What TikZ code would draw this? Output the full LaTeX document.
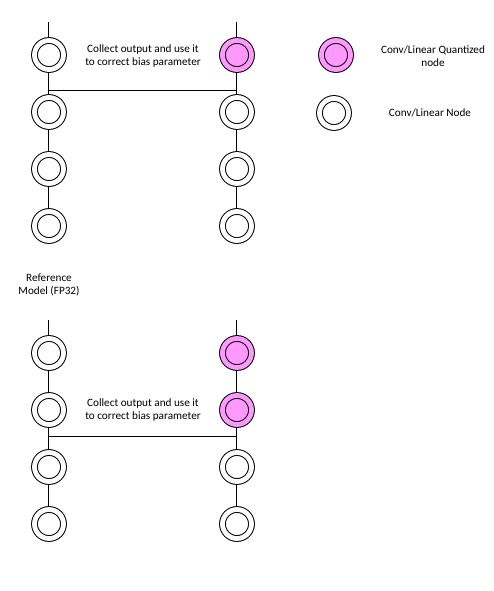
\documentclass[tikz,border=0pt]{standalone}
\usepackage{fontspec}
\setmainfont{Carlito}
\usetikzlibrary{positioning}

\begin{document}
\begin{tikzpicture}[x=0.5pt, y=-0.5pt, node distance = 28.5pt, font=\fontsize{5.6}{6.5}\selectfont]

\tikzstyle{conv} = [circle, draw=black, line width=0.5pt, double=white, double distance=2.4pt, minimum size=14.5pt, inner sep=0pt, outer sep=1.7pt, fill=white]
\tikzstyle{quant} = [conv, fill=quantpink, double=quantpink]
\tikzstyle{labels} = [rectangle, text centered, draw=none, align=center, inner sep=0pt]
\tikzstyle{wire} = [line width=0.5pt]
\colorlet{quantpink}{magenta!40}
\definecolor{quantpink}{RGB}{255,153,255}

\useasboundingbox (0,0) rectangle (494,591);

%% ------------------
%% -- FIRST STAGE --
%% ------------------

% reference column
\coordinate (ta) at (49,22);
\node (a1) [conv] at (49,55) {};
\node (a2) [conv, below of=a1] {};
\node (a3) [conv, below of=a2] {};
\node (a4) [conv, below of=a3] {};

% quantized column
\coordinate (tb) at (237,22);
\node (b1) [quant] at (237,55) {};
\node (b2) [conv, below of=b1] {};
\node (b3) [conv, below of=b2] {};
\node (b4) [conv, below of=b3] {};

\draw [wire] (ta) -- (a1) -- (a2) -- (a3) -- (a4);
\draw [wire] (tb) -- (b1) -- (b2) -- (b3) -- (b4);

\coordinate (bar1) at (49,90);
\draw [wire] (bar1) -- (bar1 -| b1);

\node (collect1) [labels] at (143,56.5) {Collect output and use it\\to correct bias parameter};

%% ------------------
%% -- LEGEND --
%% ------------------

\node (lq) [quant] at (336,55) {};
\node (lc) [conv] at (334,113) {};
\node (lqtext) [labels] at (433,56.5) {Conv/Linear Quantized\\node};
\node (lctext) [labels] at (430,113) {Conv/Linear Node};

\node (refmodel) [labels] at (49,284.5) {Reference\\Model (FP32)};

%% ------------------
%% -- SECOND STAGE --
%% ------------------

% reference column
\coordinate (tc) at (49,320);
\node (c1) [conv] at (49,353) {};
\node (c2) [conv, below of=c1] {};
\node (c3) [conv, below of=c2] {};
\node (c4) [conv, below of=c3] {};

% quantized column
\coordinate (td) at (237,320);
\node (d1) [quant] at (237,353) {};
\node (d2) [quant, below of=d1] {};
\node (d3) [conv, below of=d2] {};
\node (d4) [conv, below of=d3] {};

\draw [wire] (tc) -- (c1) -- (c2) -- (c3) -- (c4);
\draw [wire] (td) -- (d1) -- (d2) -- (d3) -- (d4);

\coordinate (bar2) at (49,436);
\draw [wire] (bar2) -- (bar2 -| d1);

\node (collect2) [labels] at (143,410) {Collect output and use it\\to correct bias parameter};

\end{tikzpicture}
\end{document}
